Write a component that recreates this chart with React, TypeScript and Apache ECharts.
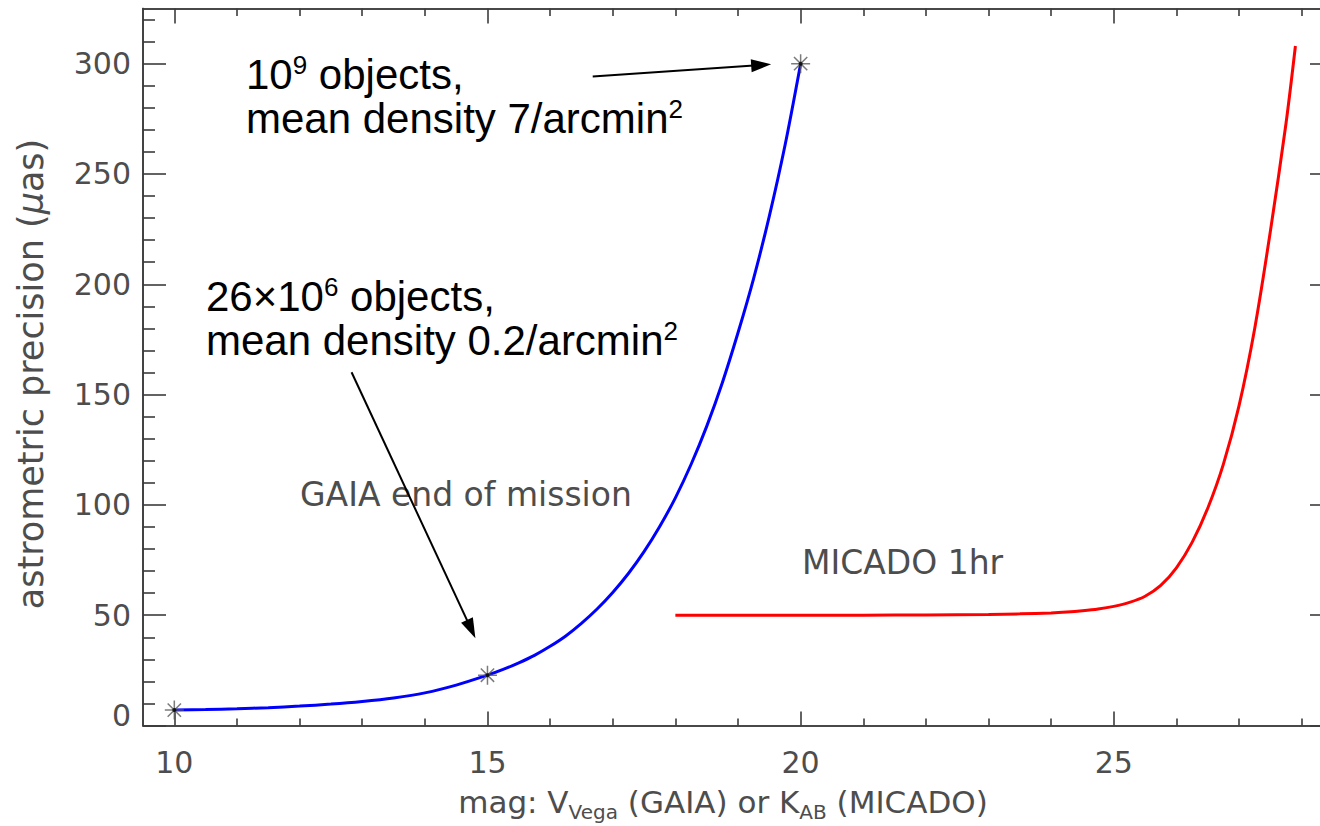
import React, { useEffect, useRef } from 'react';
import * as echarts from 'echarts';

// GAIA end-of-mission curve (V_Vega mag vs astrometric precision, µas)
const GAIA_MAG = [10, 10.5, 11, 11.5, 12, 12.5, 13, 13.5, 14, 14.5, 15, 15.25, 15.5, 15.75, 16, 16.25, 16.5, 16.75, 17, 17.25, 17.5, 17.75, 18, 18.25, 18.5, 18.75, 19, 19.25, 19.5, 19.75, 20];
const GAIA_PREC = [7, 7.2, 7.6, 8.1, 8.8, 9.7, 10.9, 12.5, 14.8, 18.3, 22.8, 25.4, 28.4, 31.8, 35.9, 40.6, 46.3, 52.8, 60.3, 68.9, 78.8, 90.2, 103.2, 118.3, 135.6, 155.4, 178, 202.7, 230.9, 262.9, 300];

// MICADO 1hr curve (K_AB mag vs astrometric precision, µas)
const MICADO_MAG = [18, 19, 20, 21, 22, 23, 23.5, 24, 24.25, 24.5, 24.75, 25, 25.25, 25.5, 25.75, 26, 26.25, 26.5, 26.75, 27, 27.25, 27.5, 27.75, 27.9];
const MICADO_PREC = [50, 50, 50, 50, 50.1, 50.3, 50.6, 51, 51.4, 52, 52.8, 54, 55.8, 58.6, 63.5, 71.5, 83, 98.5, 118.5, 145, 180, 224, 273, 308];

// marked points (asterisks)
const STAR_MAG = [10, 15, 20];
const STAR_PREC = [7, 22.8, 300];

// axis ticks
const X_MAJOR = [10, 15, 20, 25];
const X_MINOR = [11, 12, 13, 14, 16, 17, 18, 19, 21, 22, 23, 24, 26, 27, 28];
const Y_MAJOR = [0, 50, 100, 150, 200, 250, 300];
const Y_MINOR = [10, 20, 30, 40, 60, 70, 80, 90, 110, 120, 130, 140, 160, 170, 180, 190, 210, 220, 230, 240, 260, 270, 280, 290, 310, 320];

// annotation arrows [from, to] in data units
const ARROW_1 = [[16.68, 294.2], [19.37, 299.4]];
const ARROW_2 = [[12.83, 160.1], [14.74, 43.7]];

const AX = '#3c3c3c';
const TXT = '#4d4d4d';
const THIN = "'DejaVu Sans', sans-serif";
const ARIAL = "'Liberation Sans', Arial, sans-serif";

function xAxis(position: string, values: number[], len: number, labels: boolean) {
  return {
    type: 'value',
    position,
    min: 9.5,
    max: 28.5,
    axisLine: { show: true, onZero: false, lineStyle: { color: AX, width: 1.6 } },
    axisTick: { show: true, inside: true, length: len, customValues: values, lineStyle: { color: AX, width: 1.6 } },
    axisLabel: labels
      ? { show: true, customValues: values, margin: 22, fontSize: 30, fontFamily: THIN, color: TXT }
      : { show: false },
    splitLine: { show: false },
  };
}

function yAxis(position: string, values: number[], len: number, labels: boolean) {
  return {
    type: 'value',
    position,
    min: 0,
    max: 325,
    axisLine: { show: true, onZero: false, lineStyle: { color: AX, width: 1.6 } },
    axisTick: { show: true, inside: true, length: len, customValues: values, lineStyle: { color: AX, width: 1.6 } },
    axisLabel: labels
      ? {
          show: true,
          customValues: values,
          margin: 12,
          fontSize: 30,
          fontFamily: THIN,
          color: TXT,
          formatter: (v: number) => (v === 0 ? '{z|0}' : String(v)),
          rich: { z: { fontSize: 30, fontFamily: THIN, color: TXT, padding: [0, 0, 20, 0] } },
        }
      : { show: false },
    splitLine: { show: false },
  };
}

function annotation(x: number, y: number, text: string) {
  return {
    type: 'text',
    x,
    y,
    style: {
      text,
      fontSize: 42,
      fontFamily: ARIAL,
      fill: '#000',
      lineHeight: 44,
      align: 'left',
      verticalAlign: 'top',
      rich: {
        sup: { fontSize: 26, fontFamily: ARIAL, fill: '#000', lineHeight: 30, verticalAlign: 'top' },
      },
    },
  };
}

export default function App() {
  const ref = useRef<HTMLDivElement>(null);

  useEffect(() => {
    const chart = echarts.init(ref.current!, null, { renderer: 'svg' });
    const option: any = {
      animation: false,
      backgroundColor: '#ffffff',
      grid: { left: 143, top: 8.5, width: 1190, height: 717, containLabel: false, outerBoundsMode: 'none' },
      xAxis: [
        xAxis('bottom', X_MAJOR, 14, true),
        xAxis('bottom', X_MINOR, 7, false),
        xAxis('top', X_MAJOR, 15, false),
        xAxis('top', X_MINOR, 7.5, false),
      ],
      yAxis: [
        yAxis('left', Y_MAJOR, 23, true),
        yAxis('left', Y_MINOR, 12, false),
        yAxis('right', Y_MAJOR, 23, false),
        yAxis('right', Y_MINOR, 12, false),
      ],
      series: [
        {
          type: 'line',
          name: 'GAIA',
          data: GAIA_MAG.map((m, i) => [m, GAIA_PREC[i]]),
          smooth: 0.3,
          showSymbol: false,
          lineStyle: { color: '#0000ff', width: 3 },
          silent: true,
          z: 3,
        },
        {
          type: 'line',
          name: 'MICADO',
          data: MICADO_MAG.map((m, i) => [m, MICADO_PREC[i]]),
          smooth: 0.3,
          showSymbol: false,
          lineStyle: { color: '#ff0000', width: 3 },
          silent: true,
          z: 3,
        },
        {
          type: 'scatter',
          name: 'stars',
          data: STAR_MAG.map((m, i) => [m, STAR_PREC[i]]),
          symbol: 'path://M10,0L10,20M0,10L20,10M3,3L17,17M3,17L17,3',
          symbolSize: 19,
          itemStyle: { color: 'transparent', borderColor: '#5a5a5a', borderWidth: 1.5 },
          silent: true,
          z: 4,
          markLine: {
            silent: true,
            symbol: ['none', 'triangle'],
            symbolSize: [13, 20],
            label: { show: false },
            lineStyle: { color: '#000', width: 2, type: 'solid' },
            itemStyle: { color: '#000' },
            data: [
              [{ coord: ARROW_1[0] }, { coord: ARROW_1[1] }],
              [{ coord: ARROW_2[0] }, { coord: ARROW_2[1] }],
            ],
          },
        },
        {
          type: 'scatter',
          name: 'dots',
          data: STAR_MAG.map((m, i) => [m, STAR_PREC[i]]),
          symbol: 'circle',
          symbolSize: 4,
          itemStyle: { color: '#000' },
          silent: true,
          z: 5,
        },
      ],
      graphic: [
        {
          type: 'text',
          x: 31,
          y: 374,
          rotation: Math.PI / 2,
          style: {
            text: 'astrometric precision ({mu|μ}as)',
            fontSize: 35,
            fontFamily: THIN,
            fill: TXT,
            align: 'center',
            verticalAlign: 'middle',
            rich: {
              mu: { fontSize: 35, fontFamily: THIN, fontStyle: 'italic', fill: TXT },
            },
          },
        },
        {
          type: 'text',
          x: 723,
          y: 802,
          style: {
            text: 'mag: V{sub|Vega} (GAIA) or K{sub|AB} (MICADO)',
            fontSize: 31,
            fontFamily: THIN,
            fill: TXT,
            lineHeight: 40,
            align: 'center',
            verticalAlign: 'middle',
            rich: {
              sub: { fontSize: 20, fontFamily: THIN, fill: TXT, lineHeight: 17, verticalAlign: 'bottom' },
            },
          },
        },
        {
          type: 'text',
          x: 300,
          y: 494,
          style: {
            text: 'GAIA end of mission',
            fontSize: 33,
            fontFamily: THIN,
            fill: TXT,
            align: 'left',
            verticalAlign: 'middle',
          },
        },
        {
          type: 'text',
          x: 802,
          y: 562,
          style: {
            text: 'MICADO 1hr',
            fontSize: 33,
            fontFamily: THIN,
            fill: TXT,
            align: 'left',
            verticalAlign: 'middle',
          },
        },
        annotation(246, 52, '10{sup|9} objects,\nmean density 7/arcmin{sup|2}'),
        annotation(206, 274, '26×10{sup|6} objects,\nmean density 0.2/arcmin{sup|2}'),
      ],
    };
    chart.setOption(option);
    return () => chart.dispose();
  }, []);

  return (
    <div
      style={{
        position: 'absolute',
        left: 0,
        top: 0,
        width: 1320,
        height: 826,
        overflow: 'hidden',
        background: '#ffffff',
      }}
    >
      <div ref={ref} style={{ width: 1360, height: 826 }} />
    </div>
  );
}
